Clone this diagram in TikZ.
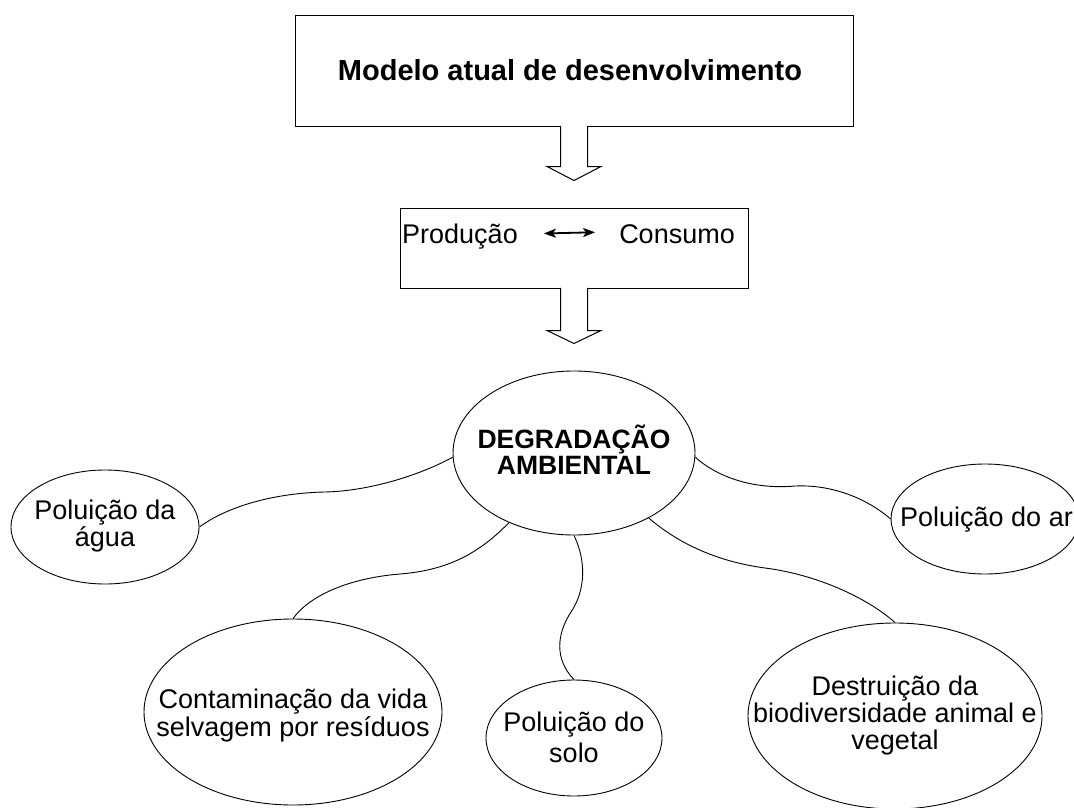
\documentclass[tikz,border=0pt]{standalone}
\usepackage{fontspec}
\setmainfont{Liberation Sans}
\usetikzlibrary{shapes.geometric,arrows.meta,calc}
\begin{document}
\begin{tikzpicture}[x=1pt,y=-1pt,
  box/.style={draw, line width=1pt, inner sep=0pt},
  oval/.style={draw, ellipse, line width=0.9pt, inner sep=0pt},
  txt/.style={align=center, inner sep=0pt, font=\fontsize{27}{27}\selectfont},
  boldtxt/.style={align=center, inner sep=0pt, font=\bfseries\fontsize{26.5}{26}\selectfont},
  link/.style={line width=0.9pt},
  blockarrow/.style={line width=1pt, fill=white},
  tip/.style={Stealth[length=12pt,width=9pt,inset=3pt]}
]
\useasboundingbox (0,0) rectangle (1074,808);
\clip (0,0) rectangle (1074,808);

% top box
\node[box, minimum width=558pt, minimum height=110pt] (model) at (574,71) {};
\node[boldtxt, font=\bfseries\fontsize{29}{30}\selectfont] (modeltxt) at (570,70) {Modelo atual de desenvolvimento};

% middle box
\node[box, minimum width=348pt, minimum height=80pt] (pc) at (574,248) {};
\node[txt, anchor=base west] (prod) at (402,243) {Produção};
\node[txt, anchor=base east] (cons) at (735,243) {Consumo};
\draw[{Stealth[length=12pt,width=9pt,inset=3pt]}-{Stealth[length=12pt,width=9pt,inset=3pt]}, line width=1.8pt, shorten <=26pt, shorten >=24pt]
  ([yshift=2pt]prod.east) -- ([yshift=2pt]cons.west);

% block arrows
\draw[blockarrow] ($(model.south)+(-13.5,-0.6)$) -- ++(0,40.6) -- ++(-13.5,0) -- ++(27,14) -- ++(27,-14) -- ++(-13.5,0) -- ++(0,-40.6);
\draw[blockarrow] ($(pc.south)+(-13.5,-0.6)$) -- ++(0,42.6) -- ++(-13.5,0) -- ++(27,13) -- ++(27,-13) -- ++(-13.5,0) -- ++(0,-42.6);

% ellipses
\node[oval, minimum width=242pt, minimum height=164pt] (deg) at (574,453) {};
\node[boldtxt] (degtxt) at (574,450) {DEGRADAÇÃO\\AMBIENTAL};

\node[oval, minimum width=188pt, minimum height=114pt] (water) at (105,527) {};
\node[txt] (watertxt) at (105,526) {Poluição da\\água};

\node[oval, minimum width=188pt, minimum height=110pt] (air) at (985,519) {};
\node[txt, anchor=base west] (airtxt) at (900,526) {Poluição do ar};

\node[oval, minimum width=298pt, minimum height=186pt] (cont) at (293,712) {};
\node[txt, font=\fontsize{27}{28}\selectfont] (conttxt) at (293,716) {Contaminação da vida\\selvagem por resíduos};

\node[oval, minimum width=176pt, minimum height=116pt] (solo) at (574,738) {};
\node[txt, font=\fontsize{27}{31}\selectfont] (solotxt) at (574,737) {Poluição do\\solo};

\node[oval, minimum width=294pt, minimum height=186pt] (destr) at (895,716) {};
\node[txt, font=\fontsize{27}{27}\selectfont] (destrtxt) at (895,716) {Destruição da\\biodiversidade animal e\\vegetal};

% connectors
\draw[link] (deg.182) .. controls (420,475) and (370,491) .. (325,492) .. controls (275,493) and (228,506) .. (water.east);
\draw[link] (deg.227) .. controls (480,552) and (450,570) .. (400,574) .. controls (350,578) and (310,595) .. (cont.north);
\draw[link] (deg.south) .. controls (586,560) and (586,590) .. (571,612) .. controls (556,635) and (555,660) .. (solo.north);
\draw[link] (deg.319) .. controls (680,545) and (720,562) .. (765,568) .. controls (820,575) and (870,600) .. (destr.north);
\draw[link] (deg.358) .. controls (715,475) and (750,490) .. (795,486) .. controls (840,484) and (875,505) .. (air.west);
\end{tikzpicture}
\end{document}
